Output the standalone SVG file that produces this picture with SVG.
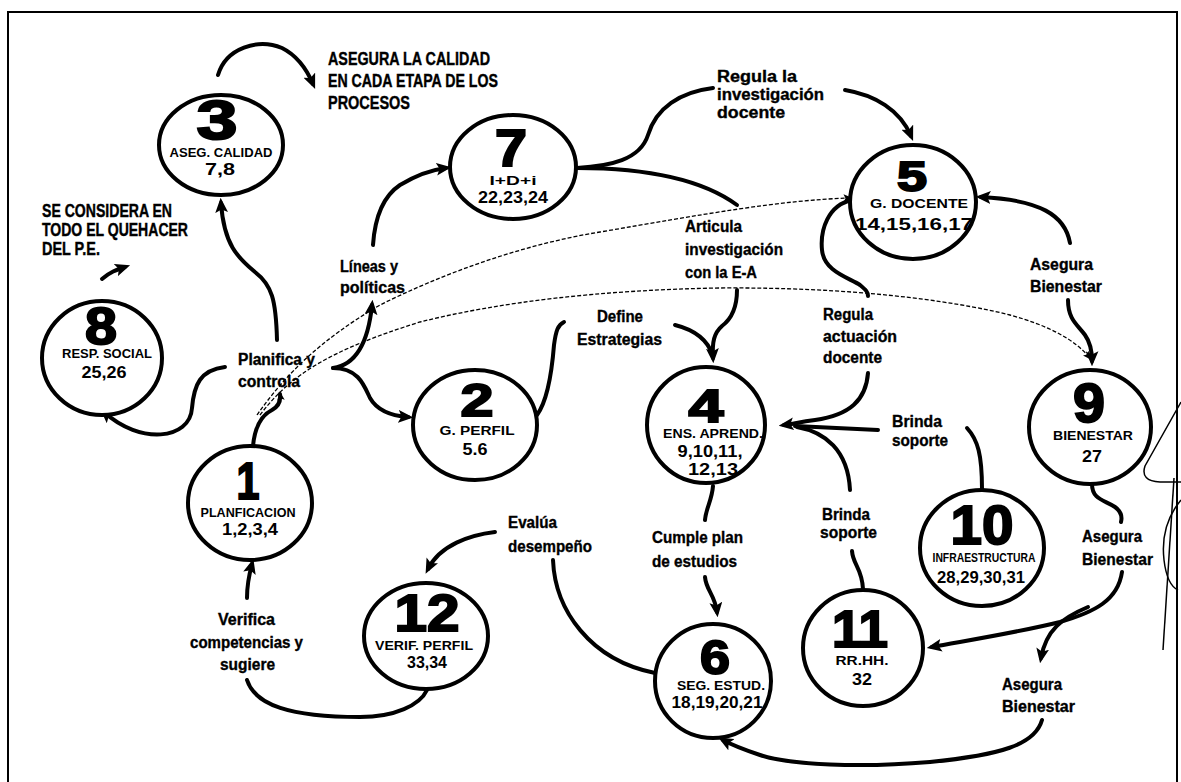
<svg xmlns="http://www.w3.org/2000/svg" width="1181" height="782" viewBox="0 0 1181 782">
  <defs>
    <style>
      .node ellipse { fill: #fff; stroke: #000; stroke-width: 4; }
      .num { font-family: "Liberation Sans", Arial, sans-serif; font-weight: bold; text-anchor: middle; fill: #000; stroke: #000; stroke-width: 2; }
      .lab { font-family: "Liberation Sans", Arial, sans-serif; font-weight: bold; text-anchor: middle; fill: #000; font-size: 12px; }
      .ids { font-family: "Liberation Sans", Arial, sans-serif; font-weight: bold; text-anchor: middle; fill: #000; font-size: 17px; }
      .el { font-family: "Liberation Sans Narrow", "Liberation Sans", Arial, sans-serif; font-weight: bold; font-size: 16px; fill: #000; stroke: #000; stroke-width: 0.35; }
      .cap { font-family: "Liberation Sans Narrow", "Liberation Sans", Arial, sans-serif; font-weight: bold; font-size: 18px; fill: #000; stroke: #000; stroke-width: 0.4; }
      .c { fill: none; stroke: #000; stroke-width: 4; stroke-linecap: round; }
      .a { marker-end: url(#ah); }
      .d { fill: none; stroke: #000; stroke-width: 1.3; stroke-dasharray: 4 2; }
      .thin { fill: none; stroke: #000; stroke-width: 1.5; }
    </style>
    <marker id="ah" viewBox="0 0 14 12" markerWidth="15" markerHeight="13" refX="9" refY="6" orient="auto" markerUnits="userSpaceOnUse">
      <path d="M0,0 L14,6 L0,12 L3,6 z" fill="#000"/>
    </marker>
    <marker id="ahs" viewBox="0 0 14 12" markerWidth="9" markerHeight="8" refX="10" refY="6" orient="auto" markerUnits="userSpaceOnUse">
      <path d="M0,0 L14,6 L0,12 L3,6 z" fill="#000"/>
    </marker>
  </defs>

  <rect width="1181" height="782" fill="#fff"/>
  <!-- page frame -->
  <path d="M8,782 L8,12 L1177,12 L1177,782" fill="none" stroke="#000" stroke-width="2"/>

  <!-- pen marks at the right margin -->
  <g id="margin-marks">
    <path class="thin" d="M1181,402 L1145,466 Q1140,481 1160,482 L1181,482"/>
    <path class="thin" d="M1174,478 L1163,650"/>
    <path class="thin" d="M1181,500 Q1160,525 1164,560 Q1167,585 1178,590"/>
  </g>

  <!-- free annotations -->
  <g id="annotations">
    <text class="cap" x="328" y="65" textLength="162" lengthAdjust="spacingAndGlyphs">ASEGURA LA CALIDAD</text>
    <text class="cap" x="328" y="87" textLength="170" lengthAdjust="spacingAndGlyphs">EN CADA ETAPA DE LOS</text>
    <text class="cap" x="328" y="109" textLength="82" lengthAdjust="spacingAndGlyphs">PROCESOS</text>
    <text class="cap" x="42" y="217" textLength="130" lengthAdjust="spacingAndGlyphs">SE CONSIDERA EN</text>
    <text class="cap" x="42" y="236" textLength="146" lengthAdjust="spacingAndGlyphs">TODO EL QUEHACER</text>
    <text class="cap" x="42" y="255" textLength="58" lengthAdjust="spacingAndGlyphs">DEL P.E.</text>
  </g>

  <!-- connectors -->
  <g id="connectors">
    <!-- dotted links from Planificación -->
    <path class="d" marker-end="url(#ahs)" d="M257,415 C285,375 320,340 380,305 C440,275 520,245 600,232 C700,215 780,200 850,198"/>
    <path class="d" marker-end="url(#ahs)" d="M260,415 C290,375 330,350 420,322 C500,302 600,290 720,288 C850,287 950,300 1010,315 C1050,326 1075,340 1090,358"/>

    <!-- 3 -> annotation -->
    <path class="c a" d="M218,75 C226,48 258,38 282,48 C298,56 307,70 313,84"/>
    <!-- small arrow under SE CONSIDERA -->
    <path class="c a" d="M102,279 C110,272 116,270 125,267"/>
    <!-- Planifica y controla -> 3 -->
    <path class="c a" d="M277,340 C276,300 272,285 255,272 C238,258 224,245 221,203"/>
    <!-- Planifica y controla -> 8 -->
    <path class="c a" d="M225,367 C200,370 194,385 192,408 C190,440 140,445 104,412"/>
    <!-- Planifica y controla -> Líneas y políticas -->
    <path class="c a" d="M333,368 C355,365 368,345 372,305"/>
    <!-- Planifica y controla -> 2 -->
    <path class="c a" d="M333,368 C358,368 364,385 370,398 C378,412 394,416 408,417"/>
    <!-- 1 -> Planifica y controla -->
    <path class="c" marker-end="url(#ahs)" d="M253,446 C255,425 262,415 272,410 C279,406 281,401 280,394"/>
    <!-- Líneas y políticas -> 7 -->
    <path class="c a" d="M373,245 C375,215 385,195 400,185 C415,176 430,170 446,168"/>
    <!-- 7 -> Regula la investigación docente -->
    <path class="c" d="M577,168 C610,166 640,160 648,135 C656,108 680,92 713,88"/>
    <!-- 7 -> Articula investigación -->
    <path class="c" d="M577,168 C640,168 700,178 737,205"/>
    <!-- Regula la investigación docente -> 5 -->
    <path class="c a" d="M845,90 C875,95 900,110 911,136"/>
    <!-- Articula ... -> 4 -->
    <path class="c a" d="M737,290 C737,310 730,320 722,326 C714,333 712,342 713,358"/>
    <!-- Define Estrategias -> 4 -->
    <path class="c" d="M675,325 C695,330 708,340 713,356"/>
    <!-- 2 -> Define Estrategias -->
    <path class="c" d="M537,415 C548,400 552,370 554,345 C556,330 558,325 564,322"/>
    <!-- 5 -> Regula actuación docente -->
    <path class="c" d="M852,200 C828,205 820,230 822,250 C824,272 850,278 860,285 C866,290 868,292 868,296"/>
    <!-- Regula actuación docente -> 4 -->
    <path class="c a" d="M868,373 C866,400 850,415 815,420 C800,422 792,424 784,425"/>
    <!-- Brinda soporte -> 4 -->
    <path class="c" d="M878,430 L795,426"/>
    <path class="c" d="M797,427 C825,432 848,450 850,490"/>
    <!-- Brinda soporte -> 11 -->
    <path class="c" d="M852,551 C853,565 862,568 863,589"/>
    <!-- 10 -> Brinda soporte -->
    <path class="c" d="M967,428 C978,440 982,455 982,489"/>
    <!-- Asegura Bienestar -> 5 -->
    <path class="c a" d="M1070,243 C1065,215 1040,200 981,197"/>
    <!-- Asegura Bienestar -> 9 -->
    <path class="c a" d="M1068,300 C1068,320 1078,325 1085,335 C1090,342 1092,350 1092,361"/>
    <!-- 9 -> Asegura Bienestar -->
    <path class="c" d="M1092,484 C1092,500 1105,500 1115,507 C1122,512 1122,518 1121,522"/>
    <!-- Asegura Bienestar -> 11 -->
    <path class="c a" d="M1122,572 C1118,600 1095,612 1060,622 C1020,632 970,640 932,647"/>
    <!-- branch -> Asegura Bienestar (lower) -->
    <path class="c a" d="M1088,607 C1062,618 1046,630 1041,658"/>
    <!-- Asegura Bienestar -> 6 -->
    <path class="c a" d="M1042,720 C1035,745 1000,755 930,762 C860,768 790,765 760,755 C742,749 732,745 723,740"/>
    <!-- 4 -> Cumple plan de estudios -->
    <path class="c" d="M713,486 C712,500 706,508 705,520"/>
    <!-- Cumple plan de estudios -> 6 -->
    <path class="c a" d="M705,577 C706,590 715,595 717,612"/>
    <!-- Evalúa desempeño -> 12 -->
    <path class="c a" d="M495,532 C470,535 440,545 428,569"/>
    <!-- 6 -> Evalúa desempeño -->
    <path class="c" d="M553,560 C555,610 590,660 655,673"/>
    <!-- Verifica competencias -> 1 -->
    <path class="c a" d="M247,598 C247,585 249,575 252,564"/>
    <!-- 12 -> Verifica competencias -->
    <path class="c" d="M247,680 C255,705 290,717 360,717 C395,717 420,705 427,690"/>
  </g>

  <!-- connector labels -->
  <g id="labels">
    <text class="el" x="238" y="365" textLength="77" lengthAdjust="spacingAndGlyphs">Planifica y</text>
    <text class="el" x="238" y="387" textLength="62" lengthAdjust="spacingAndGlyphs">controla</text>
    <text class="el" x="340" y="272" textLength="58" lengthAdjust="spacingAndGlyphs">Líneas y</text>
    <text class="el" x="340" y="293" textLength="65" lengthAdjust="spacingAndGlyphs">políticas</text>
    <text class="el" x="597" y="322" textLength="46" lengthAdjust="spacingAndGlyphs">Define</text>
    <text class="el" x="577" y="345" textLength="85" lengthAdjust="spacingAndGlyphs">Estrategias</text>
    <text class="el" x="685" y="232" textLength="57" lengthAdjust="spacingAndGlyphs">Articula</text>
    <text class="el" x="685" y="255" textLength="98" lengthAdjust="spacingAndGlyphs">investigación</text>
    <text class="el" x="685" y="278" textLength="72" lengthAdjust="spacingAndGlyphs">con la E-A</text>
    <text class="el" x="717" y="82" textLength="80" lengthAdjust="spacingAndGlyphs">Regula la</text>
    <text class="el" x="717" y="100" textLength="107" lengthAdjust="spacingAndGlyphs">investigación</text>
    <text class="el" x="717" y="118" textLength="68" lengthAdjust="spacingAndGlyphs">docente</text>
    <text class="el" x="823" y="320" textLength="50" lengthAdjust="spacingAndGlyphs">Regula</text>
    <text class="el" x="823" y="342" textLength="74" lengthAdjust="spacingAndGlyphs">actuación</text>
    <text class="el" x="823" y="363" textLength="59" lengthAdjust="spacingAndGlyphs">docente</text>
    <text class="el" x="892" y="427" textLength="50" lengthAdjust="spacingAndGlyphs">Brinda</text>
    <text class="el" x="892" y="446" textLength="56" lengthAdjust="spacingAndGlyphs">soporte</text>
    <text class="el" x="1030" y="270" textLength="63" lengthAdjust="spacingAndGlyphs">Asegura</text>
    <text class="el" x="1030" y="292" textLength="72" lengthAdjust="spacingAndGlyphs">Bienestar</text>
    <text class="el" x="822" y="520" textLength="48" lengthAdjust="spacingAndGlyphs">Brinda</text>
    <text class="el" x="820" y="538" textLength="57" lengthAdjust="spacingAndGlyphs">soporte</text>
    <text class="el" x="1082" y="542" textLength="60" lengthAdjust="spacingAndGlyphs">Asegura</text>
    <text class="el" x="1082" y="565" textLength="71" lengthAdjust="spacingAndGlyphs">Bienestar</text>
    <text class="el" x="1002" y="690" textLength="60" lengthAdjust="spacingAndGlyphs">Asegura</text>
    <text class="el" x="1002" y="712" textLength="73" lengthAdjust="spacingAndGlyphs">Bienestar</text>
    <text class="el" x="652" y="543" textLength="91" lengthAdjust="spacingAndGlyphs">Cumple plan</text>
    <text class="el" x="652" y="567" textLength="85" lengthAdjust="spacingAndGlyphs">de estudios</text>
    <text class="el" x="508" y="528" textLength="49" lengthAdjust="spacingAndGlyphs">Evalúa</text>
    <text class="el" x="508" y="552" textLength="84" lengthAdjust="spacingAndGlyphs">desempeño</text>
    <text class="el" x="218" y="625" textLength="57" lengthAdjust="spacingAndGlyphs">Verifica</text>
    <text class="el" x="190" y="648" textLength="113" lengthAdjust="spacingAndGlyphs">competencias y</text>
    <text class="el" x="220" y="670" textLength="55" lengthAdjust="spacingAndGlyphs">sugiere</text>
  </g>

  <!-- nodes -->
  <g id="node-3" class="node">
    <ellipse cx="221" cy="145" rx="62" ry="50"/>
    <text class="num" x="217" y="139" font-size="55" textLength="41" lengthAdjust="spacingAndGlyphs">3</text>
    <text class="lab" x="221" y="157" textLength="103" lengthAdjust="spacingAndGlyphs">ASEG. CALIDAD</text>
    <text class="ids" x="220" y="175" textLength="30" lengthAdjust="spacingAndGlyphs">7,8</text>
  </g>
  <g id="node-7" class="node">
    <ellipse cx="513" cy="167" rx="63" ry="52"/>
    <text class="num" x="511" y="166" font-size="51" textLength="32" lengthAdjust="spacingAndGlyphs">7</text>
    <text class="lab" x="513" y="185" font-size="14" textLength="47" lengthAdjust="spacingAndGlyphs">I+D+i</text>
    <text class="ids" x="513" y="203" textLength="70" lengthAdjust="spacingAndGlyphs">22,23,24</text>
  </g>
  <g id="node-5" class="node">
    <ellipse cx="913" cy="202" rx="63" ry="57"/>
    <text class="num" x="912" y="191" font-size="42" textLength="30" lengthAdjust="spacingAndGlyphs">5</text>
    <text class="lab" x="919" y="208" textLength="98" lengthAdjust="spacingAndGlyphs">G. DOCENTE</text>
    <text class="ids" x="914" y="230" textLength="118" lengthAdjust="spacingAndGlyphs">14,15,16,17</text>
  </g>
  <g id="node-8" class="node">
    <ellipse cx="102" cy="358" rx="60" ry="57"/>
    <text class="num" x="101" y="344" font-size="52" textLength="32" lengthAdjust="spacingAndGlyphs">8</text>
    <text class="lab" x="107" y="358" textLength="90" lengthAdjust="spacingAndGlyphs">RESP. SOCIAL</text>
    <text class="ids" x="104" y="378" textLength="45" lengthAdjust="spacingAndGlyphs">25,26</text>
  </g>
  <g id="node-2" class="node">
    <ellipse cx="475" cy="425" rx="62" ry="55"/>
    <text class="num" x="477" y="416" font-size="47" textLength="33" lengthAdjust="spacingAndGlyphs">2</text>
    <text class="lab" x="477" y="435" textLength="75" lengthAdjust="spacingAndGlyphs">G. PERFIL</text>
    <text class="ids" x="475" y="455" textLength="25" lengthAdjust="spacingAndGlyphs">5.6</text>
  </g>
  <g id="node-4" class="node">
    <ellipse cx="706" cy="425" rx="59" ry="58"/>
    <text class="num" x="706" y="422" font-size="46" textLength="35" lengthAdjust="spacingAndGlyphs">4</text>
    <text class="lab" x="713" y="438" textLength="100" lengthAdjust="spacingAndGlyphs">ENS. APREND.</text>
    <text class="ids" x="710" y="457" textLength="65" lengthAdjust="spacingAndGlyphs">9,10,11,</text>
    <text class="ids" x="713" y="475" textLength="50" lengthAdjust="spacingAndGlyphs">12,13</text>
  </g>
  <g id="node-9" class="node">
    <ellipse cx="1090" cy="427" rx="61" ry="57"/>
    <text class="num" x="1089" y="422" font-size="55" textLength="32" lengthAdjust="spacingAndGlyphs">9</text>
    <text class="lab" x="1093" y="440" textLength="80" lengthAdjust="spacingAndGlyphs">BIENESTAR</text>
    <text class="ids" x="1092" y="462" textLength="20" lengthAdjust="spacingAndGlyphs">27</text>
  </g>
  <g id="node-1" class="node">
    <ellipse cx="250" cy="503" rx="62" ry="57"/>
    <text class="num" x="248" y="499" font-size="51" textLength="23" lengthAdjust="spacingAndGlyphs">1</text>
    <text class="lab" x="248" y="517" textLength="95" lengthAdjust="spacingAndGlyphs">PLANFICACION</text>
    <text class="ids" x="250" y="535" textLength="56" lengthAdjust="spacingAndGlyphs">1,2,3,4</text>
  </g>
  <g id="node-10" class="node">
    <ellipse cx="982" cy="548" rx="62" ry="58"/>
    <text class="num" x="982" y="544" font-size="55" textLength="63" lengthAdjust="spacingAndGlyphs">10</text>
    <text class="lab" x="984" y="562" font-size="10" textLength="103" lengthAdjust="spacingAndGlyphs">INFRAESTRUCTURA</text>
    <text class="ids" x="981" y="583" font-size="16" textLength="88" lengthAdjust="spacingAndGlyphs">28,29,30,31</text>
  </g>
  <g id="node-11" class="node">
    <ellipse cx="863" cy="648" rx="60" ry="58"/>
    <text class="num" x="860" y="647" font-size="52" textLength="56" lengthAdjust="spacingAndGlyphs">11</text>
    <text class="lab" x="862" y="665" font-size="11" textLength="53" lengthAdjust="spacingAndGlyphs">RR.HH.</text>
    <text class="ids" x="862" y="685" font-size="16" textLength="20" lengthAdjust="spacingAndGlyphs">32</text>
  </g>
  <g id="node-12" class="node">
    <ellipse cx="426" cy="636" rx="62" ry="53"/>
    <text class="num" x="427" y="631" font-size="51" textLength="65" lengthAdjust="spacingAndGlyphs">12</text>
    <text class="lab" x="424" y="650" textLength="98" lengthAdjust="spacingAndGlyphs">VERIF. PERFIL</text>
    <text class="ids" x="427" y="668" font-size="16" textLength="40" lengthAdjust="spacingAndGlyphs">33,34</text>
  </g>
  <g id="node-6" class="node">
    <ellipse cx="713" cy="681" rx="58" ry="57"/>
    <text class="num" x="715" y="674" font-size="48" textLength="30" lengthAdjust="spacingAndGlyphs">6</text>
    <text class="lab" x="721" y="690" textLength="88" lengthAdjust="spacingAndGlyphs">SEG. ESTUD.</text>
    <text class="ids" x="717" y="708" font-size="16" textLength="91" lengthAdjust="spacingAndGlyphs">18,19,20,21</text>
  </g>
</svg>
